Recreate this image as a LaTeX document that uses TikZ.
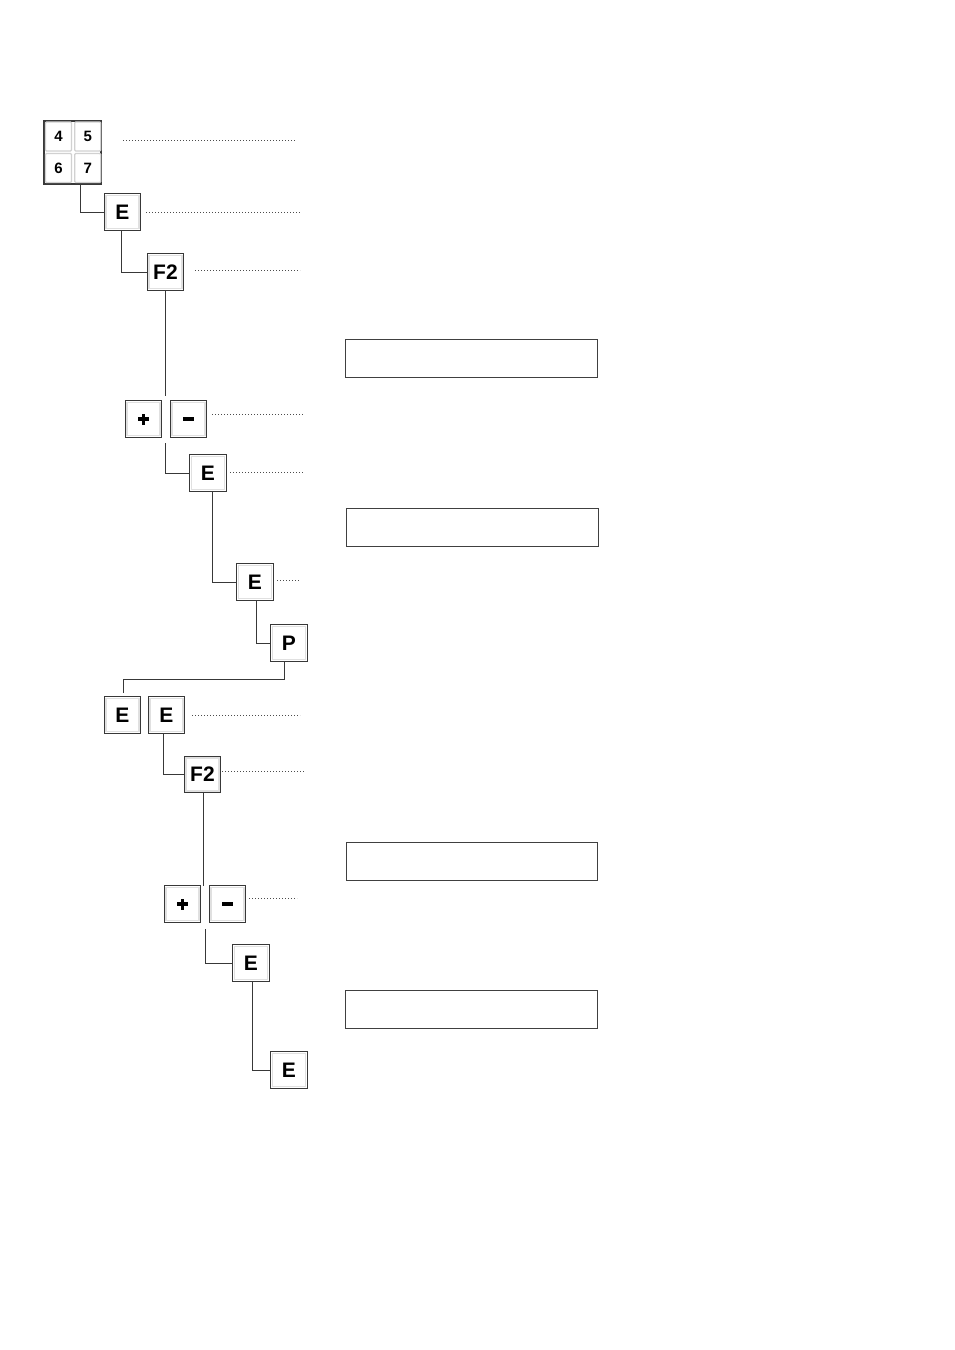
\documentclass[tikz,border=0pt]{standalone}
\usepackage{fontspec}
\setmainfont{Liberation Sans}
\newcommand{\plusglyph}{\makebox[11pt][l]{\rlap{\rule[3.9pt]{11pt}{3.2pt}}\hspace{3.9pt}\rule{3.2pt}{11pt}}}
\newcommand{\minusglyph}{\rule{10.5pt}{3.6pt}}
\begin{document}
\begin{tikzpicture}[x=1pt,y=-1pt,
  keybox/.style={draw=black!78,line width=1.1pt,fill=white,minimum width=36.5pt,minimum height=36.5pt,inner sep=0pt,
    font=\fontsize{21}{21}\selectfont\bfseries,
    path picture={\draw[black!12,line width=1.4pt]([shift={(1.6pt,-1.6pt)}]path picture bounding box.north west) rectangle ([shift={(-1.6pt,1.6pt)}]path picture bounding box.south east);}},
  padkey/.style={draw=black!18,line width=1.2pt,fill=white,rounded corners=1pt,minimum width=26pt,minimum height=29pt,inner sep=0pt,font=\fontsize{15}{15}\selectfont\bfseries},
  padframe/.style={draw=black!78,line width=1.1pt,minimum width=57pt,minimum height=63pt,inner sep=0pt},
  display/.style={draw=black!75,line width=1pt,minimum width=252pt,minimum height=38pt,inner sep=0pt},
  wire/.style={draw=black!78,line width=1pt},
  leader/.style={draw=black!70,line width=0.8pt,dash pattern=on 0.8pt off 2.2pt}]
\useasboundingbox (0,0) rectangle (954,1350);
% keypad
\node[padframe] (kp) at (72.5,152.5) {};
\node[padkey] (k4) at (58.5,136.5) {4};
\node[padkey] (k5) at (87.8,136.5) {5};
\node[padkey] (k6) at (58.5,168) {6};
\node[padkey] (k7) at (87.8,168) {7};
% keys
\node[keybox] (e1) at (122.5,212) {E};
\node[keybox] (f2a) at (165.5,272) {F2};
\node[keybox] (pa) at (143.5,419) {\plusglyph};
\node[keybox] (ma) at (188.5,419) {\minusglyph};
\node[keybox] (e2) at (208,473) {E};
\node[keybox] (e3) at (255,582) {E};
\node[keybox] (p) at (289,643) {P};
\node[keybox] (e4) at (122.5,715) {E};
\node[keybox] (e5) at (166.5,715) {E};
\node[keybox] (f2b) at (202.5,774.5) {F2};
\node[keybox] (pb) at (182.5,904) {\plusglyph};
\node[keybox] (mb) at (227.5,904) {\minusglyph};
\node[keybox] (e6) at (251,963) {E};
\node[keybox] (e7) at (289,1070) {E};
% displays
\node[display] (d1) at (471,358) {};
\node[display] (d2) at (472,527) {};
\node[display,minimum width=251pt] (d3) at (471.5,861) {};
\node[display] (d4) at (471,1009) {};
% junction coordinates
\coordinate (j1) at (165,396);
\coordinate (j2) at (165,443);
\coordinate (j3) at (123,693);
\coordinate (j4) at (203.5,886);
\coordinate (j5) at (205,929);
% connectors
\draw[wire] ([xshift=7.5pt]kp.south) |- (e1.west);
\draw[wire] ([xshift=-1.5pt]e1.south) |- (f2a.west);
\draw[wire] ([xshift=-0.5pt]f2a.south) -- (j1);
\draw[wire] (j2) |- (e2.west);
\draw[wire] ([xshift=4pt]e2.south) |- (e3.west);
\draw[wire] ([xshift=1pt]e3.south) |- (p.west);
\draw[wire] ([xshift=-5pt]p.south) -- ++(0,18) -| (j3);
\draw[wire] ([xshift=-3.5pt]e5.south) |- (f2b.west);
\draw[wire] ([xshift=1pt]f2b.south) -- (j4);
\draw[wire] (j5) |- (e6.west);
\draw[wire] ([xshift=1pt]e6.south) |- (e7.west);
% leaders
\draw[leader] (123,140) -- (296,140);
\draw[leader] (146,212) -- (300,212);
\draw[leader] (195,270) -- (300,270);
\draw[leader] (212,414) -- (304,414);
\draw[leader] (230,472) -- (304,472);
\draw[leader] (277,580) -- (299,580);
\draw[leader] (192,715) -- (300,715);
\draw[leader] (222,771) -- (304,771);
\draw[leader] (249,898) -- (297,898);
\end{tikzpicture}
\end{document}
